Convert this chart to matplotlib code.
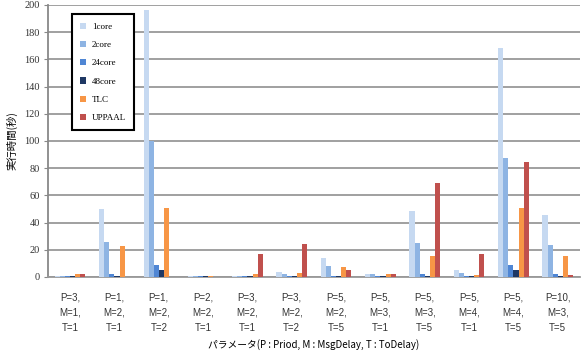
import matplotlib
matplotlib.use("Agg")
import matplotlib.pyplot as plt
import numpy as np

categories = ["P=3,\nM=1,\nT=1", "P=1,\nM=2,\nT=1", "P=1,\nM=2,\nT=2", "P=2,\nM=2,\nT=1",
              "P=3,\nM=2,\nT=1", "P=3,\nM=2,\nT=2", "P=5,\nM=2,\nT=5", "P=5,\nM=3,\nT=1",
              "P=5,\nM=3,\nT=5", "P=5,\nM=4,\nT=1", "P=5,\nM=4,\nT=5", "P=10,\nM=3,\nT=5"]
series_names = ["1core", "2core", "24core", "48core", "TLC", "UPPAAL"]
core1 = [1.0, 50, 196, 1.0, 1.0, 3.5, 14.2, 2.5, 48.6, 4.9, 168.6, 45.4]
core2 = [1.0, 26, 100, 1.0, 1.0, 2.0, 7.9, 2.0, 25.3, 3.0, 87.6, 23.8]
core24 = [1.0, 2.0, 9.0, 0.6, 1.0, 1.0, 1.0, 1.0, 2.0, 1.0, 9.0, 2.5]
core48 = [0.5, 1.0, 5.0, 0.4, 0.5, 0.5, 0.5, 0.5, 1.0, 0.5, 5.0, 1.0]
tlc = [2.0, 22.5, 51, 1.0, 2.0, 3.0, 7.1, 2.0, 15.5, 1.5, 51, 15.5]
uppaal = [2.0, 0, 0, 0, 16.5, 24.5, 4.9, 2.5, 69, 16.7, 84.7, 1.5]
yticks = list(range(0, 201, 20))

colors = ["#C6D9F1", "#8EB4E3", "#4F86D4", "#1F3864", "#F79646", "#C0504D"]
data = [core1, core2, core24, core48, tlc, uppaal]

fig = plt.figure(figsize=(5.81, 3.51), dpi=100)
ax = fig.add_axes([0.0826, 0.211, 0.9155, 0.775])

x = np.arange(len(categories))
w = 0.115
for i, (vals, c, name) in enumerate(zip(data, colors, series_names)):
    ax.bar(x + (i - 2.5) * w, vals, width=w, color=c, label=name, zorder=3)

ax.set_xlim(-0.5, len(categories) - 0.5)
ax.set_ylim(0, 200)
ax.set_yticks(yticks)
ax.set_yticklabels([str(v) for v in yticks], fontsize=7.5, family="Liberation Serif", color="#333333")
ax.set_xticks(x)
ax.set_xticklabels(categories, fontsize=7, family="Liberation Sans", color="#333333", linespacing=1.65)
ax.tick_params(axis="x", length=0, pad=11)
ax.tick_params(axis="y", length=3, color="#888888", pad=3)
ax.yaxis.grid(True, color="#999999", linewidth=1.3, zorder=0)
for s in ["top", "right"]:
    ax.spines[s].set_visible(False)
ax.spines["left"].set_color("#888888")
ax.spines["left"].set_linewidth(1.3)
ax.spines["bottom"].set_color("#999999")
ax.spines["bottom"].set_linewidth(1.3)

ax.set_ylabel("実行時間(秒)", family=["Noto Sans CJK JP", "DejaVu Sans"], fontsize=7.5, labelpad=5)
ax.set_xlabel("パラメータ(P : Priod, M : MsgDelay, T : ToDelay)",
              family=["Noto Sans CJK JP", "DejaVu Sans"], fontsize=7, labelpad=5)

leg = ax.legend(loc="upper left", bbox_to_anchor=(0.045, 0.965), frameon=True, fancybox=False,
                prop={"family": "Liberation Serif", "size": 6.5}, handlelength=0.7, handleheight=0.7,
                labelspacing=1.1, borderpad=0.9, handletextpad=0.6, borderaxespad=0)
leg.get_frame().set_edgecolor("black")
leg.get_frame().set_linewidth(1.5)
leg.get_frame().set_alpha(1)

fig.savefig("out.png", dpi=100)
